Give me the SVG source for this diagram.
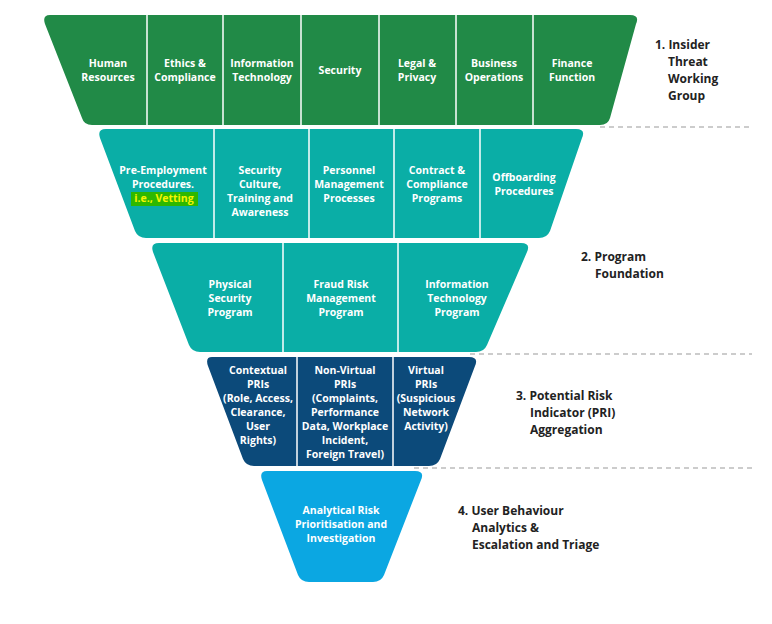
<svg xmlns="http://www.w3.org/2000/svg" width="772" height="624" viewBox="0 0 772 624">
<style>
.t{font-family:"Open Sans","Liberation Sans",sans-serif;font-weight:bold;font-size:10.5px;fill:#fff;text-anchor:middle}
.l{font-family:"Open Sans","Liberation Sans",sans-serif;font-weight:bold;font-size:12px;fill:#222}
.d{stroke:#fff;stroke-width:1.5}
.dash{stroke:#999;stroke-width:1;stroke-dasharray:5 4;fill:none}
</style>
<rect width="772" height="624" fill="#fff"/>
<g id="connectors">
<line class="dash" x1="600" y1="127" x2="752" y2="127"/>
<line class="dash" x1="470" y1="354" x2="752" y2="354"/>
<line class="dash" x1="414" y1="468" x2="752" y2="468"/>
</g>
<g id="band1">
<path d="M50 15 H630 Q640 15 636 24 L610 118 Q608 125 600 125 H92 Q84 125 82 118 L45 24 Q42 15 50 15Z" fill="#218a47"/>
<line class="d" x1="147" y1="15" x2="147" y2="125"/><line class="d" x1="223" y1="15" x2="223" y2="125"/><line class="d" x1="301" y1="15" x2="301" y2="125"/><line class="d" x1="379" y1="15" x2="379" y2="125"/><line class="d" x1="456" y1="15" x2="456" y2="125"/><line class="d" x1="533" y1="15" x2="533" y2="125"/>
<text class="t" x="108" y="67">Human<tspan x="108" dy="14">Resources</tspan></text>
<text class="t" x="185" y="67">Ethics &amp;<tspan x="185" dy="14">Compliance</tspan></text>
<text class="t" x="262" y="67">Information<tspan x="262" dy="14">Technology</tspan></text>
<text class="t" x="340" y="74">Security</text>
<text class="t" x="417" y="67">Legal &amp;<tspan x="417" dy="14">Privacy</tspan></text>
<text class="t" x="494" y="67">Business<tspan x="494" dy="14">Operations</tspan></text>
<text class="t" x="572" y="67">Finance<tspan x="572" dy="14">Function</tspan></text>
</g>
<g id="band2">
<path d="M106 129 H576 Q586 129 582 138 L550 231 Q547 238 539 238 H146 Q138 238 135 231 L100 138 Q97 129 106 129Z" fill="#0aaea6"/>
<line class="d" x1="214" y1="129" x2="214" y2="238"/><line class="d" x1="309" y1="129" x2="309" y2="238"/><line class="d" x1="394" y1="129" x2="394" y2="238"/><line class="d" x1="480" y1="129" x2="480" y2="238"/>
<rect x="131" y="192" width="67" height="14" fill="#2eb800"/>
<text class="t" x="163" y="174">Pre-Employment<tspan x="163" dy="14">Procedures.</tspan><tspan x="164" dy="14" fill="#f5f500">i.e., Vetting</tspan></text>
<text class="t" x="260" y="174">Security<tspan x="260" dy="14">Culture,</tspan><tspan x="260" dy="14">Training and</tspan><tspan x="260" dy="14">Awareness</tspan></text>
<text class="t" x="349" y="174">Personnel<tspan x="349" dy="14">Management</tspan><tspan x="349" dy="14">Processes</tspan></text>
<text class="t" x="437" y="174">Contract &amp;<tspan x="437" dy="14">Compliance</tspan><tspan x="437" dy="14">Programs</tspan></text>
<text class="t" x="524" y="181">Offboarding<tspan x="524" dy="14">Procedures</tspan></text>
</g>
<g id="band3">
<path d="M159 243 H521 Q531 243 527 252 L487 345 Q484 352 476 352 H200 Q192 352 189 345 L153 252 Q150 243 159 243Z" fill="#0aaea6"/>
<line class="d" x1="283" y1="243" x2="283" y2="352"/><line class="d" x1="398" y1="243" x2="398" y2="352"/>
<text class="t" x="230" y="288">Physical<tspan x="230" dy="14">Security</tspan><tspan x="230" dy="14">Program</tspan></text>
<text class="t" x="341" y="288">Fraud Risk<tspan x="341" dy="14">Management</tspan><tspan x="341" dy="14">Program</tspan></text>
<text class="t" x="457" y="288">Information<tspan x="457" dy="14">Technology</tspan><tspan x="457" dy="14">Program</tspan></text>
</g>
<g id="band4">
<path d="M212 357 H469 Q479 357 475 366 L440 459 Q437 466 429 466 H254 Q246 466 243 459 L208 366 Q205 357 212 357Z" fill="#0c4a7a"/>
<line class="d" x1="297" y1="357" x2="297" y2="466"/><line class="d" x1="393" y1="357" x2="393" y2="466"/>
<text class="t" x="258" y="374">Contextual<tspan x="258" dy="14">PRIs</tspan><tspan x="258" dy="14">(Role, Access,</tspan><tspan x="258" dy="14">Clearance,</tspan><tspan x="258" dy="14">User</tspan><tspan x="258" dy="14">Rights)</tspan></text>
<text class="t" x="345" y="374">Non-Virtual<tspan x="345" dy="14">PRIs</tspan><tspan x="345" dy="14">(Complaints,</tspan><tspan x="345" dy="14">Performance</tspan><tspan x="345" dy="14">Data, Workplace</tspan><tspan x="345" dy="14">Incident,</tspan><tspan x="345" dy="14">Foreign Travel)</tspan></text>
<text class="t" x="426" y="374">Virtual<tspan x="426" dy="14">PRIs</tspan><tspan x="426" dy="14">(Suspicious</tspan><tspan x="426" dy="14">Network</tspan><tspan x="426" dy="14">Activity)</tspan></text>
</g>
<g id="band5">
<path d="M267 471 H415 Q425 471 421 480 L384 575 Q381 582 373 582 H309 Q301 582 298 575 L262 480 Q259 471 267 471Z" fill="#0ba7e2"/>
<text class="t" x="341" y="514">Analytical Risk<tspan x="341" dy="14">Prioritisation and</tspan><tspan x="341" dy="14">Investigation</tspan></text>
</g>
<g id="labels">
<text class="l" x="655" y="49">1. Insider<tspan x="668" dy="17">Threat</tspan><tspan x="668" dy="17">Working</tspan><tspan x="668" dy="17">Group</tspan></text>
<text class="l" x="581" y="261">2. Program<tspan x="595" dy="17">Foundation</tspan></text>
<text class="l" x="516" y="400">3. Potential Risk<tspan x="530" dy="17">Indicator (PRI)</tspan><tspan x="530" dy="17">Aggregation</tspan></text>
<text class="l" x="458" y="515">4. User Behaviour<tspan x="472" dy="17">Analytics &amp;</tspan><tspan x="472" dy="17">Escalation and Triage</tspan></text>
</g>
</svg>
